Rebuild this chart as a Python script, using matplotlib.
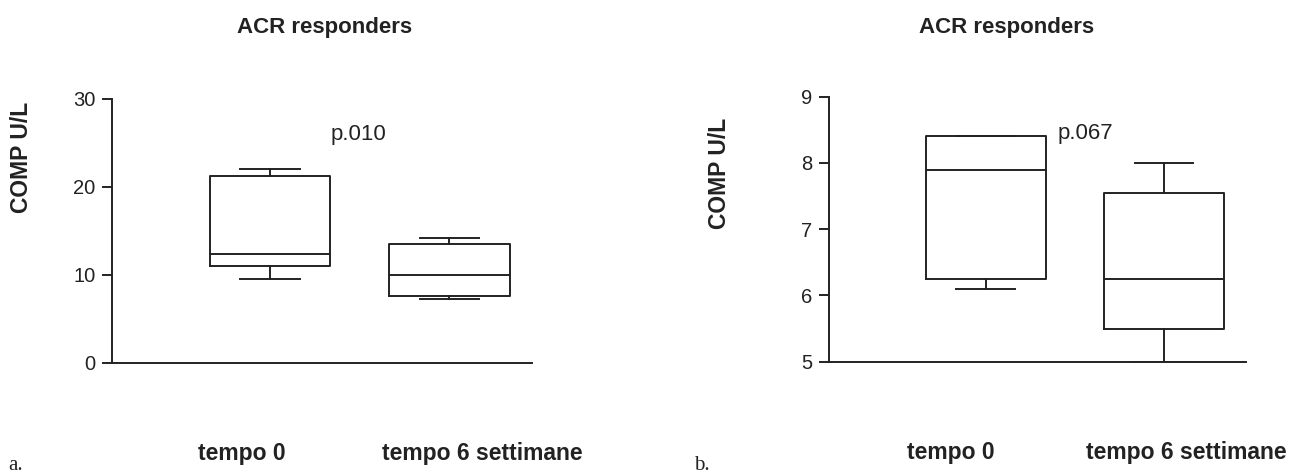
import matplotlib
matplotlib.use('Agg')
import matplotlib.pyplot as plt

plt.rcParams['font.family'] = ['Liberation Sans', 'DejaVu Sans']

# Box statistics
groups = ['tempo 0', 'tempo 6 settimane']

a_whislo = [9.5, 7.3]
a_q1 = [11.0, 7.6]
a_med = [12.4, 10.0]
a_q3 = [21.2, 13.5]
a_whishi = [22.0, 14.2]
a_ticks = [0, 10, 20, 30]
a_p = 'p.010'

b_whislo = [6.1, 5.0]
b_q1 = [6.25, 5.5]
b_med = [7.9, 6.25]
b_q3 = [8.4, 7.55]
b_whishi = [8.4, 8.0]
b_ticks = [5, 6, 7, 8, 9]
b_p = 'p.067'

W, H = 1297, 474
fig = plt.figure(figsize=(W / 100, H / 100), dpi=100)


def panel(rect, whislo, q1, med, q3, whishi, ticks, ptext, pxy, label_dx, ylab_xy):
    ax = fig.add_axes(rect)
    stats = []
    for i in range(len(groups)):
        stats.append(dict(whislo=whislo[i], q1=q1[i], med=med[i],
                          q3=q3[i], whishi=whishi[i], fliers=[]))
    lp = dict(color='#222222', linewidth=1.4)
    ax.bxp(stats, positions=[1, 2], widths=0.67, capwidths=0.33,
           boxprops=lp, medianprops=lp, whiskerprops=lp, capprops=lp,
           showfliers=False, manage_ticks=False)
    ax.set_xlim(0.12, 2.46)
    ax.set_ylim(ticks[0], ticks[-1])
    ax.set_yticks(ticks)
    ax.set_xticks([])
    for s in ['top', 'right']:
        ax.spines[s].set_visible(False)
    for s in ['left', 'bottom']:
        ax.spines[s].set_linewidth(1.4)
        ax.spines[s].set_color('#222222')
    ax.spines['left'].set_bounds(ticks[0], ticks[-1])
    ax.tick_params(axis='y', length=7, width=1.4, color='#222222',
                   labelsize=14.5, labelcolor='#222222', pad=5)
    ax.text(pxy[0], pxy[1], ptext, fontsize=16, color='#222222',
            ha='center', va='center')
    # group names sit well below the axis line
    for i, g in enumerate(groups):
        ax.annotate(g, xy=(i + 1, 0), xycoords=('data', 'axes fraction'),
                    xytext=(label_dx[i], -57), textcoords='offset points',
                    ha='center', va='top', fontsize=16.5, fontweight='bold',
                    color='#222222')
    ax.set_ylabel('COMP U/L', fontsize=16.5, fontweight='bold', color='#222222')
    ax.yaxis.set_label_coords(*ylab_xy)
    return ax


ax_a = panel([112 / W, 111 / H, 420 / W, 264 / H],
             a_whislo, a_q1, a_med, a_q3, a_whishi, a_ticks, a_p, (1.495, 26.0),
             [-20, 24], (-0.188, 0.78))
ax_b = panel([829 / W, 112.3 / H, 417 / W, 265 / H],
             b_whislo, b_q1, b_med, b_q3, b_whishi, b_ticks, b_p, (1.558, 8.44),
             [-25, 16], (-0.235, 0.71))

fig.text(325 / W, 1 - 27 / H, 'ACR responders', ha='center', va='center',
         fontsize=16, fontweight='bold', color='#222222')
fig.text(1007 / W, 1 - 27 / H, 'ACR responders', ha='center', va='center',
         fontsize=16, fontweight='bold', color='#222222')

fig.text(8 / W, 1 - 470 / H, 'a.', ha='left', va='baseline',
         fontsize=15, family='Liberation Serif', color='#222222')
fig.text(694 / W, 1 - 470 / H, 'b.', ha='left', va='baseline',
         fontsize=15, family='Liberation Serif', color='#222222')

fig.savefig('out.png', dpi=100)
